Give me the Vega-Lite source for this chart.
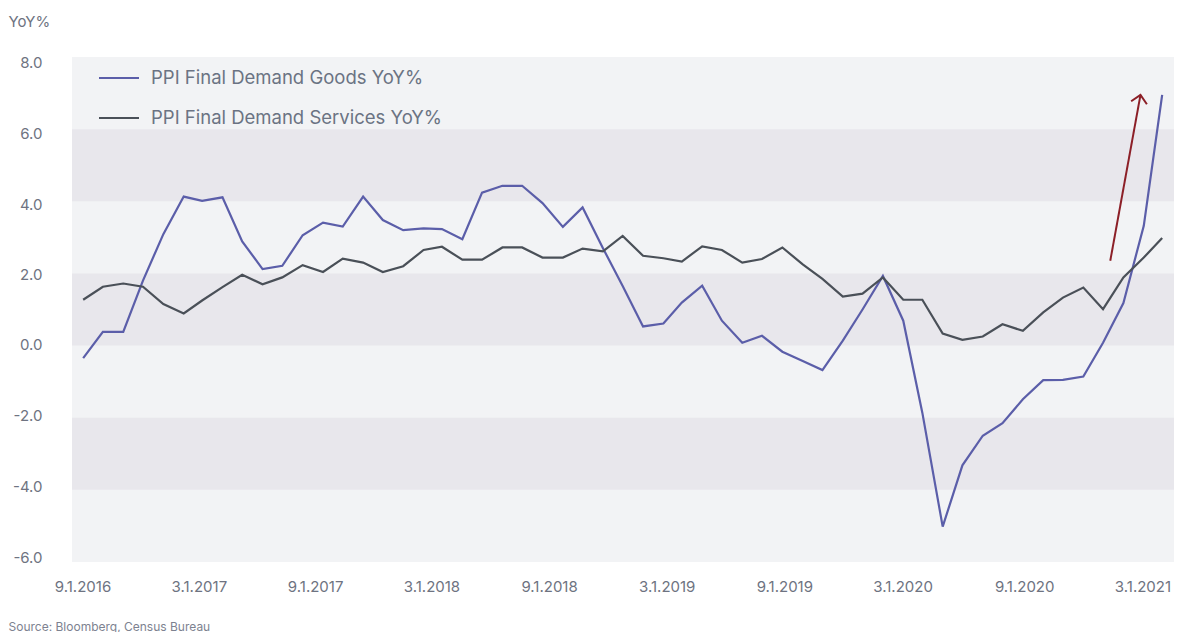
{
  "$schema": "https://vega.github.io/schema/vega-lite/v6.json",
  "width": 1102,
  "height": 505,
  "autosize": {"type": "none"},
  "padding": {"left": 72, "top": 57, "right": 4, "bottom": 70},
  "background": "white",
  "config": {"view": {"fill": "#f2f3f5", "stroke": null}, "font": "Inter"},
  "datasets": {
    "ppi": [
      {"date": "2016-09-01", "goods": -0.35, "services": 1.27},
      {"date": "2016-10-01", "goods": 0.38, "services": 1.63},
      {"date": "2016-11-01", "goods": 0.38, "services": 1.72},
      {"date": "2016-12-01", "goods": 1.8, "services": 1.63},
      {"date": "2017-01-01", "goods": 3.09, "services": 1.15},
      {"date": "2017-02-01", "goods": 4.13, "services": 0.89},
      {"date": "2017-03-01", "goods": 4.01, "services": 1.25},
      {"date": "2017-04-01", "goods": 4.11, "services": 1.62},
      {"date": "2017-05-01", "goods": 2.89, "services": 1.96},
      {"date": "2017-06-01", "goods": 2.12, "services": 1.7},
      {"date": "2017-07-01", "goods": 2.21, "services": 1.89},
      {"date": "2017-08-01", "goods": 3.06, "services": 2.23},
      {"date": "2017-09-01", "goods": 3.41, "services": 2.04},
      {"date": "2017-10-01", "goods": 3.3, "services": 2.41},
      {"date": "2017-11-01", "goods": 4.13, "services": 2.3},
      {"date": "2017-12-01", "goods": 3.48, "services": 2.04},
      {"date": "2018-01-01", "goods": 3.2, "services": 2.2},
      {"date": "2018-02-01", "goods": 3.25, "services": 2.65},
      {"date": "2018-03-01", "goods": 3.23, "services": 2.74},
      {"date": "2018-04-01", "goods": 2.95, "services": 2.38},
      {"date": "2018-05-01", "goods": 4.24, "services": 2.38},
      {"date": "2018-06-01", "goods": 4.43, "services": 2.72},
      {"date": "2018-07-01", "goods": 4.43, "services": 2.72},
      {"date": "2018-08-01", "goods": 3.95, "services": 2.44},
      {"date": "2018-09-01", "goods": 3.29, "services": 2.44},
      {"date": "2018-10-01", "goods": 3.83, "services": 2.69},
      {"date": "2018-11-01", "goods": 2.7, "services": 2.61},
      {"date": "2018-12-01", "goods": 1.65, "services": 3.04},
      {"date": "2019-01-01", "goods": 0.53, "services": 2.49},
      {"date": "2019-02-01", "goods": 0.61, "services": 2.42},
      {"date": "2019-03-01", "goods": 1.19, "services": 2.33},
      {"date": "2019-04-01", "goods": 1.66, "services": 2.75},
      {"date": "2019-05-01", "goods": 0.69, "services": 2.65},
      {"date": "2019-06-01", "goods": 0.08, "services": 2.3},
      {"date": "2019-07-01", "goods": 0.27, "services": 2.4},
      {"date": "2019-08-01", "goods": -0.17, "services": 2.72},
      {"date": "2019-09-01", "goods": -0.43, "services": 2.25},
      {"date": "2019-10-01", "goods": -0.68, "services": 1.85},
      {"date": "2019-11-01", "goods": 0.14, "services": 1.36},
      {"date": "2019-12-01", "goods": 1.0, "services": 1.44},
      {"date": "2020-01-01", "goods": 1.93, "services": 1.89},
      {"date": "2020-02-01", "goods": 0.69, "services": 1.27},
      {"date": "2020-03-01", "goods": -1.86, "services": 1.27},
      {"date": "2020-04-01", "goods": -5.02, "services": 0.33},
      {"date": "2020-05-01", "goods": -3.32, "services": 0.16},
      {"date": "2020-06-01", "goods": -2.5, "services": 0.25},
      {"date": "2020-07-01", "goods": -2.15, "services": 0.59},
      {"date": "2020-08-01", "goods": -1.49, "services": 0.41},
      {"date": "2020-09-01", "goods": -0.96, "services": 0.92},
      {"date": "2020-10-01", "goods": -0.95, "services": 1.33},
      {"date": "2020-11-01", "goods": -0.86, "services": 1.61},
      {"date": "2020-12-01", "goods": 0.08, "services": 1.01},
      {"date": "2021-01-01", "goods": 1.18, "services": 1.89},
      {"date": "2021-02-01", "goods": 3.32, "services": 2.44},
      {"date": "2021-03-01", "goods": 6.95, "services": 2.98}
    ],
    "bands": [
      {"lo": 4, "hi": 6},
      {"lo": 0, "hi": 2},
      {"lo": -4, "hi": -2}
    ],
    "arrow": [
      {"start": "2020-12-12", "lo": 2.35, "end": "2021-01-27", "hi": 6.95}
    ]
  },
  "layer": [
    {
      "data": {"name": "bands"},
      "mark": {"type": "rect", "color": "#e8e7ec"},
      "encoding": {
        "x": {"value": 0},
        "x2": {"value": "width"},
        "y": {"field": "lo", "type": "quantitative"},
        "y2": {"field": "hi"}
      }
    },
    {
      "data": {"name": "ppi"},
      "transform": [{"fold": ["goods", "services"], "as": ["series", "value"]}],
      "mark": {"type": "line", "strokeWidth": 2.2},
      "encoding": {
        "x": {
          "field": "date",
          "type": "temporal",
          "scale": {
            "type": "utc",
            "domain": [
              {"year": 2016, "month": 8, "date": 15, "utc": true},
              {"year": 2021, "month": 3, "date": 19, "utc": true}
            ]
          },
          "axis": {
            "values": [
              {"year": 2016, "month": 8, "date": 31, "utc": true},
              {"year": 2017, "month": 2, "date": 24, "utc": true},
              {"year": 2017, "month": 8, "date": 20, "utc": true},
              {"year": 2018, "month": 2, "date": 13, "utc": true},
              {"year": 2018, "month": 8, "date": 11, "utc": true},
              {"year": 2019, "month": 2, "date": 6, "utc": true},
              {"year": 2019, "month": 8, "date": 4, "utc": true},
              {"year": 2020, "month": 1, "date": 31, "utc": true},
              {"year": 2020, "month": 8, "date": 3, "utc": true},
              {"year": 2021, "month": 1, "date": 30, "utc": true}
            ],
            "labelExpr": "['9.1.2016','3.1.2017','9.1.2017','3.1.2018','9.1.2018','3.1.2019','9.1.2019','3.1.2020','9.1.2020','3.1.2021'][round((datum.value - utc(2016,7,31))/(179.2*86400000))]",
            "labelFont": "Inter",
            "labelFontSize": 15,
            "labelColor": "#6e7381",
            "ticks": false,
            "tickSize": 0,
            "domain": false,
            "grid": false,
            "labelPadding": 24,
            "labelBaseline": "middle",
            "labelFlush": false,
            "labelOverlap": false,
            "title": "Source: Bloomberg, Census Bureau",
            "titleX": -64,
            "titleY": 64,
            "titleAlign": "left",
            "titleAnchor": "start",
            "titleBaseline": "middle",
            "titleFont": "Inter",
            "titleFontSize": 12,
            "titleFontWeight": "normal",
            "titleColor": "#7d8290"
          }
        },
        "y": {
          "field": "value",
          "type": "quantitative",
          "scale": {"domain": [-6, 8], "nice": false, "zero": false},
          "axis": {
            "values": [7.861, 5.893, 3.916, 1.965, 0.016, -1.933, -3.913, -5.862],
            "labelExpr": "(round(datum.value/2)*2) + '.0'",
            "ticks": false,
            "tickSize": 0,
            "domain": false,
            "grid": false,
            "labelPadding": 30,
            "labelFont": "Inter",
            "labelFontSize": 15,
            "labelColor": "#6e7381",
            "labelBaseline": "middle",
            "labelFlush": false,
            "labelOverlap": false,
            "title": "YoY%",
            "titleAngle": 0,
            "titleX": -64,
            "titleY": -36,
            "titleAlign": "left",
            "titleAnchor": "start",
            "titleBaseline": "middle",
            "titleFont": "Inter",
            "titleFontSize": 15,
            "titleFontWeight": "normal",
            "titleColor": "#6e7381"
          }
        },
        "color": {
          "field": "series",
          "type": "nominal",
          "scale": {"domain": ["goods", "services"], "range": ["#5b5ea9", "#4a5058"]},
          "legend": {
            "orient": "none",
            "legendX": 26,
            "legendY": 0,
            "title": null,
            "symbolType": "stroke",
            "symbolSize": 1600,
            "symbolStrokeWidth": 2,
            "labelFont": "Inter",
            "labelFontSize": 18.5,
            "labelColor": "#6b7383",
            "labelOffset": 11,
            "labelLimit": 0,
            "rowPadding": 9,
            "padding": 0,
            "labelExpr": "datum.label == 'goods' ? 'PPI Final Demand Goods YoY%' : 'PPI Final Demand Services YoY%'"
          }
        }
      }
    },
    {
      "data": {"name": "arrow"},
      "mark": {"type": "rule", "color": "#8c1f27", "strokeWidth": 2},
      "encoding": {
        "x": {"field": "start", "type": "temporal"},
        "x2": {"field": "end"},
        "y": {"field": "lo", "type": "quantitative"},
        "y2": {"field": "hi"}
      }
    },
    {
      "data": {"name": "arrow"},
      "mark": {"type": "point", "shape": "M-1,1L0,0L1,1", "angle": 10.5, "size": 256, "filled": false, "color": "#8c1f27", "strokeWidth": 2, "opacity": 1},
      "encoding": {
        "x": {"field": "end", "type": "temporal"},
        "y": {"field": "hi", "type": "quantitative"}
      }
    }
  ]
}
